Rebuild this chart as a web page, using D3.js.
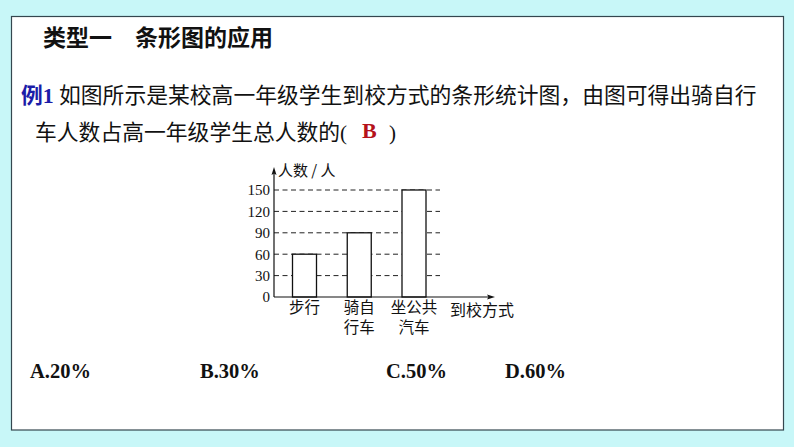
<!DOCTYPE html>
<html>

<head>
  <meta charset="utf-8">
  <title>条形图的应用</title>

  <style>
    body {
      margin: 0;
      background: #c8f7f8;
    }

    svg {
      display: block;
    }

    .cjk {
      font-family: "Noto Sans CJK SC", sans-serif;
    }

    .latin {
      font-family: "Liberation Serif", "DejaVu Serif", serif;
    }

    .grid line {
      stroke: #222;
      stroke-width: 1px;
      stroke-dasharray: 5 3.5;
    }

    .bar {
      fill: #fff;
      stroke: #111;
      stroke-width: 1.3px;
    }
  </style>
</head>

<body>
  <svg width="794" height="447"></svg>

  <script src="https://d3js.org/d3.v7.min.js"></script>

  <script>
    // chart data
    var categories = ['步行', '骑自行车', '坐公共汽车'];
    var categoryLines = [['步行'], ['骑自', '行车'], ['坐公共', '汽车']];
    var counts = [60, 90, 150];
    var tickValues = [0, 30, 60, 90, 120, 150];
    var options = ['A.20%', 'B.30%', 'C.50%', 'D.60%'];
    var optionX = [30, 200, 386, 505];

    var svg = d3.select('svg');

    // white slide panel
    svg.append('rect')
      .attr('x', 11.5).attr('y', 16.5)
      .attr('width', 772).attr('height', 413.5)
      .attr('fill', '#fff')
      .attr('stroke', '#34474f')
      .attr('stroke-width', 1.2);

    // heading
    svg.append('text')
      .attr('class', 'cjk')
      .attr('x', 43).attr('y', 45.5)
      .style('font-size', '23px')
      .style('font-weight', 'bold')
      .style('fill', '#111')
      .text('类型一　条形图的应用');

    // question, line 1
    svg.append('text')
      .attr('x', 21).attr('y', 103)
      .style('font-size', '21.8px')
      .style('font-weight', 'bold')
      .style('fill', '#1c1ca8')
      .call(function(t) {
        t.append('tspan').attr('class', 'cjk').text('例');
        t.append('tspan').attr('class', 'latin').text('1');
      });

    svg.append('text')
      .attr('class', 'cjk')
      .attr('x', 59).attr('y', 103)
      .style('font-size', '21.8px')
      .style('fill', '#111')
      .text('如图所示是某校高一年级学生到校方式的条形统计图，由图可得出骑自行');

    // question, line 2
    svg.append('text')
      .attr('class', 'cjk')
      .attr('x', 35).attr('y', 139.5)
      .style('font-size', '21.8px')
      .style('fill', '#111')
      .text('车人数占高一年级学生总人数的');

    svg.append('text')
      .attr('class', 'latin')
      .attr('x', 340).attr('y', 139.5)
      .style('font-size', '21px')
      .style('fill', '#111')
      .text('(');

    svg.append('text')
      .attr('class', 'latin')
      .attr('x', 362).attr('y', 138)
      .style('font-size', '22px')
      .style('font-weight', 'bold')
      .style('fill', '#b5121b')
      .text('B');

    svg.append('text')
      .attr('class', 'latin')
      .attr('x', 389).attr('y', 139.5)
      .style('font-size', '21px')
      .style('fill', '#111')
      .text(')');

    // ---- bar chart ----
    var x0 = 274, y0 = 297;

    var x = d3.scalePoint()
      .domain(categories)
      .range([304.5, 414]);

    var y = d3.scaleLinear()
      .domain([0, 150])
      .range([y0, 190]);

    var barWidth = 24;
    var chart = svg.append('g');

    // dashed reference lines
    chart.append('g')
      .attr('class', 'grid')
      .selectAll('line')
      .data(tickValues.filter(function(v) { return v > 0; }))
      .enter().append('line')
      .attr('x1', x0).attr('x2', 440)
      .attr('y1', function(d) { return y(d); })
      .attr('y2', function(d) { return y(d); });

    // bars
    chart.selectAll('rect.bar')
      .data(counts)
      .enter().append('rect')
      .attr('class', 'bar')
      .attr('x', function(d, i) { return x(categories[i]) - barWidth / 2; })
      .attr('y', function(d) { return y(d); })
      .attr('width', barWidth)
      .attr('height', function(d) { return y0 - y(d); });

    // y tick labels
    var yAxis = chart.append('g')
      .attr('transform', 'translate(' + x0 + ',0)')
      .call(d3.axisLeft(y).tickValues(tickValues).tickSize(0).tickPadding(4));
    yAxis.select('.domain').remove();
    yAxis.selectAll('text')
      .attr('class', 'latin')
      .style('font-size', '15px')
      .style('fill', '#111');

    // axes with arrows
    chart.append('line')
      .attr('x1', x0).attr('y1', y0)
      .attr('x2', 492).attr('y2', y0)
      .attr('stroke', '#111').attr('stroke-width', 1.2);
    chart.append('path')
      .attr('d', 'M495,' + y0 + 'L487,' + (y0 - 2.5) + 'L488.5,' + y0 + 'L487,' + (y0 + 2.5) + 'Z')
      .attr('fill', '#111');

    chart.append('line')
      .attr('x1', x0).attr('y1', y0)
      .attr('x2', x0).attr('y2', 170)
      .attr('stroke', '#111').attr('stroke-width', 1.2);
    chart.append('path')
      .attr('d', 'M' + x0 + ',167L' + (x0 - 2.5) + ',175L' + x0 + ',173.5L' + (x0 + 2.5) + ',175Z')
      .attr('fill', '#111');

    // axis titles
    chart.append('text')
      .attr('class', 'cjk')
      .attr('x', 278).attr('y', 176)
      .style('font-size', '15px')
      .style('fill', '#111')
      .text('人数 / 人');

    chart.append('text')
      .attr('class', 'cjk')
      .attr('x', 450).attr('y', 316)
      .style('font-size', '16px')
      .style('fill', '#111')
      .text('到校方式');

    // category labels, one text per line
    categoryLines.forEach(function(lines, i) {
      chart.selectAll(null)
        .data(lines)
        .enter().append('text')
        .attr('class', 'cjk')
        .attr('text-anchor', 'middle')
        .attr('x', x(categories[i]))
        .attr('y', function(s, k) { return 313 + k * 20; })
        .style('font-size', '15.5px')
        .style('fill', '#111')
        .text(function(s) { return s; });
    });

    // answer options
    svg.selectAll('text.opt')
      .data(options)
      .enter().append('text')
      .attr('class', 'latin opt')
      .attr('x', function(d, i) { return optionX[i]; })
      .attr('y', 378)
      .style('font-size', '20.5px')
      .style('font-weight', 'bold')
      .style('fill', '#111')
      .text(function(d) { return d; });
  </script>
</body>

</html>
